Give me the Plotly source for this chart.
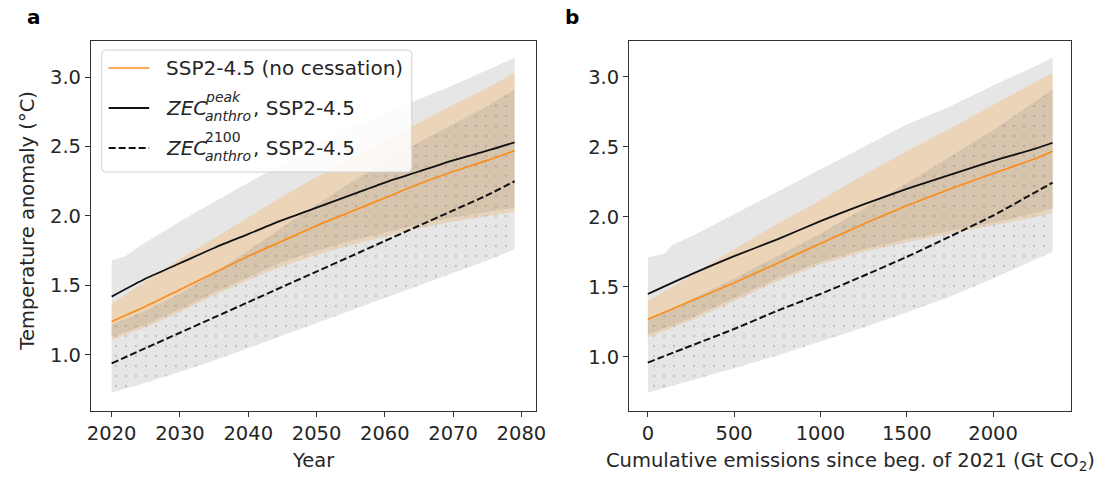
import plotly.graph_objects as go

W, H = 1114, 478
FONT = "DejaVu Sans"
TXT = "#262626"

# ---------------- panel a: temperature vs year ----------------
years = [2020, 2025, 2030, 2035, 2040, 2045, 2050, 2055, 2060, 2065, 2070, 2075, 2079]
ssp_mid = [1.24, 1.35, 1.47, 1.59, 1.71, 1.82, 1.93, 2.03, 2.13, 2.23, 2.32, 2.40, 2.47]
ssp_lo = [1.11, 1.20, 1.31, 1.43, 1.54, 1.64, 1.72, 1.79, 1.85, 1.91, 1.96, 2.00, 2.03]
ssp_hi = [1.37, 1.53, 1.69, 1.84, 1.99, 2.14, 2.28, 2.41, 2.54, 2.67, 2.80, 2.92, 3.03]
zec_peak = [1.42, 1.55, 1.66, 1.77, 1.87, 1.97, 2.06, 2.15, 2.24, 2.32, 2.40, 2.47, 2.53]
zec_peak_lo = [1.13, 1.22, 1.33, 1.45, 1.56, 1.67, 1.75, 1.82, 1.88, 1.94, 1.99, 2.03, 2.06]
zec_peak_hi_years = [2020, 2022, 2024, 2025, 2030, 2035, 2040, 2045, 2050, 2055, 2060, 2065, 2070, 2075, 2079]
zec_peak_hi = [1.68, 1.71, 1.78, 1.81, 1.96, 2.10, 2.24, 2.37, 2.50, 2.63, 2.74, 2.84, 2.94, 3.05, 3.14]
zec_2100 = [0.94, 1.05, 1.16, 1.27, 1.38, 1.49, 1.60, 1.71, 1.82, 1.93, 2.04, 2.15, 2.25]
zec_2100_lo = [0.73, 0.80, 0.88, 0.96, 1.05, 1.14, 1.23, 1.32, 1.41, 1.50, 1.59, 1.68, 1.76]
zec_2100_hi = [1.22, 1.32, 1.44, 1.59, 1.75, 1.92, 2.08, 2.24, 2.39, 2.53, 2.66, 2.79, 2.91]

# ---------------- panel b: temperature vs cumulative emissions ----------------
emis = [0, 250, 500, 750, 1000, 1250, 1500, 1750, 2000, 2250, 2345]
ssp_mid_b = [1.27, 1.40, 1.53, 1.67, 1.81, 1.95, 2.08, 2.20, 2.31, 2.42, 2.47]
ssp_lo_b = [1.14, 1.26, 1.40, 1.54, 1.66, 1.75, 1.82, 1.88, 1.94, 2.00, 2.03]
ssp_hi_b = [1.40, 1.58, 1.77, 1.95, 2.12, 2.30, 2.47, 2.63, 2.80, 2.97, 3.03]
zec_peak_b = [1.45, 1.59, 1.72, 1.84, 1.97, 2.09, 2.20, 2.30, 2.40, 2.49, 2.53]
zec_peak_lo_b = [1.16, 1.28, 1.42, 1.56, 1.68, 1.77, 1.84, 1.90, 1.96, 2.03, 2.06]
zec_peak_hi_emis = [0, 100, 140, 250, 500, 750, 1000, 1250, 1500, 1750, 2000, 2250, 2345]
zec_peak_hi_b = [1.71, 1.74, 1.80, 1.86, 2.02, 2.18, 2.34, 2.50, 2.66, 2.79, 2.94, 3.08, 3.14]
zec_2100_b = [0.96, 1.08, 1.20, 1.33, 1.45, 1.58, 1.715, 1.86, 2.01, 2.18, 2.245]
zec_2100_lo_b = [0.745, 0.83, 0.92, 1.01, 1.11, 1.21, 1.32, 1.43, 1.56, 1.70, 1.75]
zec_2100_hi_b = [1.26, 1.41, 1.56, 1.72, 1.88, 2.06, 2.24, 2.43, 2.62, 2.83, 2.91]

year_ticks = [2020, 2030, 2040, 2050, 2060, 2070, 2080]
emis_ticks = [0, 500, 1000, 1500, 2000]
temp_ticks = [1.0, 1.5, 2.0, 2.5, 3.0]

ORANGE = "#fb8d1a"
GREY_FILL = "rgba(128,128,128,0.2)"
ORANGE_FILL = "rgba(255,140,0,0.2)"
DOTS = dict(shape=".", size=10, solidity=0.045, fgcolor="rgb(120,120,120)",
            fgopacity=0.32, bgcolor=GREY_FILL)

fig = go.Figure()


def band(x_up, y_up, x_lo, y_lo, xa, ya, color, pattern=None):
    fig.add_trace(go.Scatter(
        x=list(x_up) + list(x_lo)[::-1],
        y=list(y_up) + list(y_lo)[::-1],
        mode="lines", fill="toself", fillcolor=color, fillpattern=pattern,
        line=dict(width=0), hoverinfo="skip", showlegend=False,
        xaxis=xa, yaxis=ya))


def curve(x, y, xa, ya, color, width, dash="solid"):
    fig.add_trace(go.Scatter(
        x=x, y=y, mode="lines",
        line=dict(color=color, width=width, dash=dash, shape="spline", smoothing=0.6),
        hoverinfo="skip", showlegend=False, xaxis=xa, yaxis=ya))


panels = [
    ("x", "y", years, zec_peak_hi_years, ssp_mid, ssp_lo, ssp_hi, zec_peak, zec_peak_lo,
     zec_peak_hi, zec_2100, zec_2100_lo, zec_2100_hi),
    ("x2", "y2", emis, zec_peak_hi_emis, ssp_mid_b, ssp_lo_b, ssp_hi_b, zec_peak_b, zec_peak_lo_b,
     zec_peak_hi_b, zec_2100_b, zec_2100_lo_b, zec_2100_hi_b),
]
for (xa, ya, xs, xs_hi, mid, lo, hi, pk, pk_lo, pk_hi, z21, z21_lo, z21_hi) in panels:
    band(xs_hi, pk_hi, xs, pk_lo, xa, ya, GREY_FILL)
    band(xs, hi, xs, lo, xa, ya, ORANGE_FILL)
    band(xs, z21_hi, xs, z21_lo, xa, ya, GREY_FILL, DOTS)
    curve(xs, mid, xa, ya, ORANGE, 1.7)
    curve(xs, pk, xa, ya, "#111111", 1.8)
    curve(xs, z21, xa, ya, "#111111", 2.0, "7px,3px")

axis_style = dict(showline=True, mirror=True, linecolor="#333333", linewidth=1,
                  ticks="outside", ticklen=5, tickwidth=1, tickcolor="#333333",
                  showgrid=False, zeroline=False,
                  tickfont=dict(family=FONT, size=19.5, color=TXT))

y_dom = [1 - 411 / H, 1 - 41 / H]
fig.update_layout(
    width=W, height=H, autosize=False,
    margin=dict(l=0, r=0, t=0, b=0),
    paper_bgcolor="white", plot_bgcolor="white",
    showlegend=False,
    xaxis=dict(domain=[88 / W, 539 / W], range=[2016.96, 2082.17], anchor="y",
               tickvals=year_ticks, **axis_style),
    yaxis=dict(domain=y_dom, range=[0.597, 3.259], anchor="x",
               tickvals=temp_ticks, tickformat=".1f", **axis_style),
    xaxis2=dict(domain=[633 / W, 1081 / W], range=[-109, 2454], anchor="y2",
                tickvals=emis_ticks, **axis_style),
    yaxis2=dict(domain=y_dom, range=[0.614, 3.257], anchor="x2",
                tickvals=temp_ticks, tickformat=".1f", **axis_style),
)


def px(x):
    return x / W


def py(y):
    return 1 - y / H


def text(x, y, s, size=19.5, xanchor="center", yanchor="middle", angle=0, bold=False):
    fig.add_annotation(x=px(x), y=py(y), xref="paper", yref="paper", text=s,
                       showarrow=False, xanchor=xanchor, yanchor=yanchor, textangle=angle,
                       font=dict(family=FONT, size=size, color="#000000" if bold else TXT,
                                 weight="bold" if bold else "normal"))


# panel letters and axis titles
text(30, 17, "a", size=20, bold=True)
text(575, 17, "b", size=20, bold=True)
text(24, 221, "Temperature anomaly (°C)", angle=-90)
text(313, 460, "Year")
text(857, 461, "Cumulative emissions since beg. of 2021 (Gt CO<sub>2</sub>)")

# legend box with rounded corners
x0, x1, y0, y1, r = 99, 413, 50, 172, 4
rx, ry = r / W, r / H
X0, X1, Y0, Y1 = px(x0), px(x1), py(y1), py(y0)
path = (f"M {X0 + rx},{Y0} L {X1 - rx},{Y0} Q {X1},{Y0} {X1},{Y0 + ry} "
        f"L {X1},{Y1 - ry} Q {X1},{Y1} {X1 - rx},{Y1} L {X0 + rx},{Y1} "
        f"Q {X0},{Y1} {X0},{Y1 - ry} L {X0},{Y0 + ry} Q {X0},{Y0} {X0 + rx},{Y0} Z")
fig.add_shape(type="path", path=path, xref="paper", yref="paper", layer="above",
              fillcolor="rgba(255,255,255,0.85)", line=dict(color="#d0d0d0", width=1))

legend_rows = [
    (68, ORANGE, 1.7, "solid"),
    (108, "#111111", 1.8, "solid"),
    (148, "#111111", 2.0, "7px,3px"),
]
for yy, col, wd, dash in legend_rows:
    fig.add_shape(type="line", xref="paper", yref="paper", layer="above",
                  x0=px(106), x1=px(147), y0=py(yy), y1=py(yy),
                  line=dict(color=col, width=wd, dash=dash))

text(162, 68, "SSP2-4.5 (no cessation)", size=20, xanchor="left")
for yy, sup in [(108, "peak"), (148, "2100")]:
    text(162, yy, "<i>ZEC</i>", size=20, xanchor="left")
    text(202, yy - 11, f"<i>{sup}</i>" if sup == "peak" else sup, size=14, xanchor="left")
    text(202, yy + 8, "<i>anthro</i>", size=14, xanchor="left")
    text(250, yy, ", SSP2-4.5", size=20, xanchor="left")

fig.write_html("out.html")
